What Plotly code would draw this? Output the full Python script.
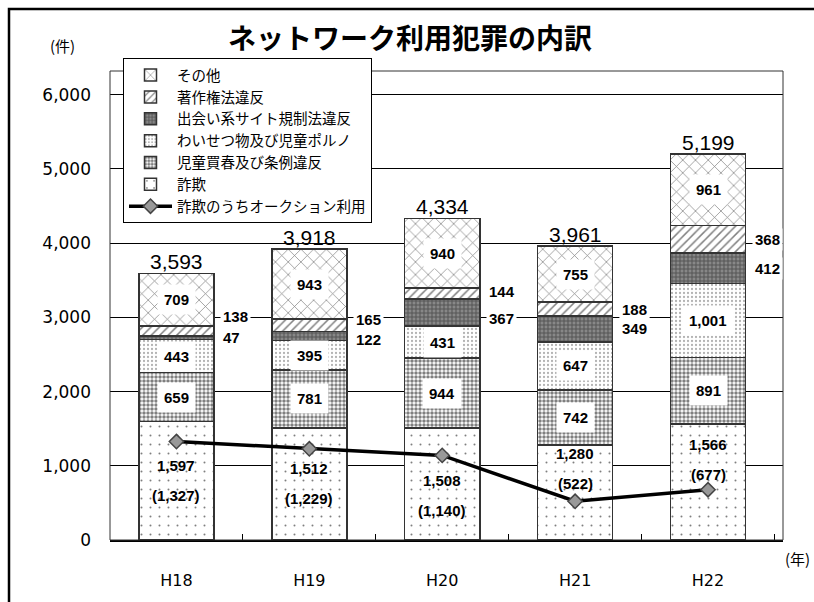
import plotly.graph_objects as go

years = ["H18", "H19", "H20", "H21", "H22"]
fraud = [1597, 1512, 1508, 1280, 1566]
child = [659, 781, 944, 742, 891]
obscene = [443, 395, 431, 647, 1001]
dating = [47, 122, 367, 349, 412]
copyright_ = [138, 165, 144, 188, 368]
other = [709, 943, 940, 755, 961]
auction = [1327, 1229, 1140, 522, 677]
totals = [3593, 3918, 4334, 3961, 5199]

names = ["詐欺", "児童買春及び条例違反", "わいせつ物及び児童ポルノ",
         "出会い系サイト規制法違反", "著作権法違反", "その他"]
series = [fraud, child, obscene, dating, copyright_, other]

patterns = [
    dict(shape=".", size=9, solidity=0.04, fgcolor="#000", bgcolor="#fff"),
    dict(shape=".", size=4, solidity=0.6, fgcolor="#000", bgcolor="#fff"),
    dict(shape=".", size=4, solidity=0.25, fgcolor="#666", bgcolor="#fff"),
    dict(shape="+", size=4, solidity=0.45, fgcolor="#222", bgcolor="#888"),
    dict(shape="/", size=6, solidity=0.25, fgcolor="#000", bgcolor="#fff"),
    dict(shape="x", size=9, solidity=0.15, fgcolor="#000", bgcolor="#fff"),
]
ranks = [6, 5, 4, 3, 2, 1]

fig = go.Figure()
for nm, vals, pat, rk in zip(names, series, patterns, ranks):
    fig.add_trace(go.Bar(
        x=years, y=vals, name=nm, legendrank=rk,
        marker=dict(color="#fff", pattern=pat, line=dict(color="#333", width=1.5)),
        width=0.565,
    ))

fig.add_trace(go.Scatter(
    x=years, y=auction, name="詐欺のうちオークション利用", legendrank=7,
    mode="lines+markers",
    line=dict(color="#000", width=3.5),
    marker=dict(symbol="diamond", size=11, color="#999", line=dict(color="#444", width=1.5)),
))

ann = []
lab_font = dict(family="Liberation Sans", size=15, color="#000")
# inside boxed labels: child, obscene, other
for idx in (1, 2, 5):
    for i, y in enumerate(years):
        base = sum(series[k][i] for k in range(idx))
        v = series[idx][i]
        ann.append(dict(x=y, y=base + v / 2, text=f"<b>{v:,}</b>", showarrow=False,
                        bgcolor="#fff", borderpad=6, font=lab_font))
# fraud labels with auction counts
fraud_shift = [0, 0, -11, 24, 22]
for i, y in enumerate(years):
    c = fraud[i] / 2
    ann.append(dict(x=y, y=c, text=f"<b>{fraud[i]:,}</b>", showarrow=False,
                    yshift=fraud_shift[i] + 15, font=lab_font))
    ann.append(dict(x=y, y=c, text=f"<b>({auction[i]:,})</b>", showarrow=False,
                    yshift=fraud_shift[i] - 15, font=lab_font))
# side labels: dating, copyright
side_shift = {3: [0, -4, -6, 0, 0], 4: [15, 6, 2, 0, 0]}
for idx in (3, 4):
    for i, y in enumerate(years):
        base = sum(series[k][i] for k in range(idx))
        v = series[idx][i]
        ann.append(dict(x=y, y=base + v / 2, text=f"<b>{v:,}</b>", showarrow=False,
                        xanchor="left", xshift=44, yshift=side_shift[idx][i],
                        bgcolor="#fff", borderpad=2, font=lab_font))
# totals
for i, y in enumerate(years):
    ann.append(dict(x=y, y=totals[i], text=f"{totals[i]:,}", showarrow=False,
                    yanchor="bottom", yshift=-2,
                    font=dict(family="Liberation Sans", size=21, color="#000")))
# unit labels & title
ann.append(dict(xref="paper", yref="paper", x=(62 - 110) / 673, y=(547 - 45) / 476,
                text="(件)", showarrow=False, xanchor="center", yanchor="middle",
                font=dict(family="Noto Sans CJK JP", size=15, color="#000")))
ann.append(dict(xref="paper", yref="paper", x=(797 - 110) / 673, y=(547 - 566) / 476,
                text="(年)", showarrow=False, xanchor="center", yanchor="middle",
                font=dict(family="Noto Sans CJK JP", size=15, color="#000")))
ann.append(dict(xref="paper", yref="paper", x=(410 - 110) / 673, y=(547 - 36) / 476,
                text="<b>ネットワーク利用犯罪の内訳</b>", showarrow=False,
                xanchor="center", yanchor="middle",
                font=dict(family="Noto Sans CJK JP", size=28, color="#000")))

shapes = [
    dict(type="rect", xref="paper", yref="paper", x0=0, x1=1, y0=0, y1=1,
         line=dict(color="#333", width=1), layer="above"),
    dict(type="rect", xref="paper", yref="paper", x0=(9 - 110) / 673, x1=1.5,
         y0=-0.5, y1=(547 - 8) / 476, line=dict(color="#000", width=2.5)),
]

fig.update_layout(
    barmode="stack",
    width=814, height=602,
    margin=dict(l=110, r=31, t=71, b=55),
    paper_bgcolor="#fff", plot_bgcolor="#fff",
    annotations=ann, shapes=shapes,
    legend=dict(
        x=(123 - 110) / 673, y=(547 - 58) / 476, xanchor="left", yanchor="top",
        bgcolor="#fff", bordercolor="#000", borderwidth=1,
        traceorder="normal",
        font=dict(family="Noto Sans CJK JP", size=14.5, color="#000"),
        tracegroupgap=0, itemwidth=43,
    ),
    xaxis=dict(
        showline=True, linecolor="#000", linewidth=2,
        ticks="inside", tickson="boundaries", ticklen=6, tickcolor="#000",
        tickfont=dict(family="DejaVu Sans", size=16, color="#000"),
        ticklabelstandoff=25, showgrid=False,
    ),
    yaxis=dict(
        range=[0, 6319], dtick=1000, tickformat=",d",
        showgrid=True, gridcolor="#000", gridwidth=1,
        zeroline=False, showline=False,
        tickfont=dict(family="DejaVu Sans", size=17, color="#000"),
        ticklabelstandoff=18,
    ),
    showlegend=True,
)

fig.write_html("out.html")
